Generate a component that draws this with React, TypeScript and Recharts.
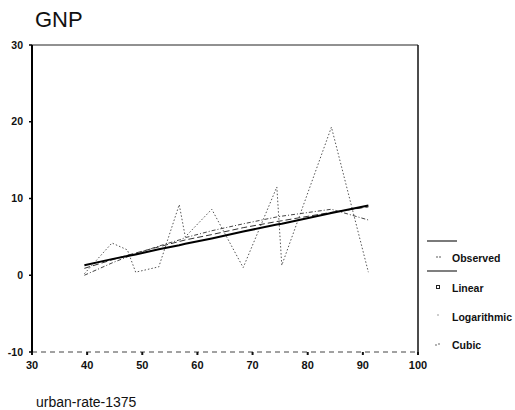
import React from 'react';
import { ComposedChart, Line, XAxis, YAxis, ReferenceLine } from 'recharts';

// urban-rate-1375 values (sorted) and GNP
const urbanRate = [39.5, 44.5, 47.3, 48.8, 53.0, 56.7, 57.8, 62.6, 68.3, 74.4, 75.3, 84.3, 91.0];
const observedGNP = [0.2, 4.2, 3.3, 0.4, 1.1, 9.2, 5.0, 8.6, 1.0, 11.5, 1.3, 19.3, 0.4];
const linearFit = [1.3, 2.1, 2.5, 2.7, 3.4, 3.9, 4.1, 4.8, 5.7, 6.6, 6.7, 8.1, 9.1];
const logFit = [0.9, 2.0, 2.6, 2.9, 3.7, 4.4, 4.6, 5.3, 6.2, 7.0, 7.1, 8.2, 8.9];
const cubicFit = [0.0, 1.6, 2.4, 2.8, 3.8, 4.6, 4.9, 5.8, 6.7, 7.6, 7.7, 8.6, 7.2];

const xTicks = [30, 40, 50, 60, 70, 80, 90, 100];
const yTicks = [-10, 0, 10, 20, 30];
const legendLabels = ['Observed', 'Linear', 'Logarithmic', 'Cubic'];

const data = urbanRate.map((x, i) => ({
  x,
  observed: observedGNP[i],
  linear: linearFit[i],
  logarithmic: logFit[i],
  cubic: cubicFit[i],
}));

const FONT = '"Liberation Sans", Arial, Helvetica, sans-serif';

export default function App() {
  return (
    <div style={{ position: 'absolute', left: 0, top: 0, width: 515, height: 410, background: '#fff', fontFamily: FONT }}>
      <ComposedChart
        width={515}
        height={410}
        data={data}
        margin={{ top: 45, right: 97, left: 0, bottom: 0 }}
      >
        <XAxis
          dataKey="x"
          type="number"
          domain={[30, 100]}
          ticks={xTicks}
          allowDataOverflow
          height={58}
          tickSize={3}
          tickMargin={6}
          axisLine={{ stroke: '#444', strokeDasharray: '5 4', strokeWidth: 1 }}
          tickLine={{ stroke: '#111', strokeWidth: 2 }}
          tick={{ fill: '#111', fontSize: 11, fontWeight: 'bold', fontFamily: FONT }}
        />
        <YAxis
          type="number"
          domain={[-10, 30]}
          ticks={yTicks}
          allowDataOverflow
          width={32}
          tickSize={3}
          tickMargin={6}
          axisLine={{ stroke: '#000', strokeWidth: 2 }}
          tickLine={{ stroke: '#000', strokeWidth: 1.5 }}
          tick={{ fill: '#111', fontSize: 10.5, fontWeight: 'bold', fontFamily: FONT }}
        />
        <ReferenceLine y={30} stroke="#222" strokeWidth={1} />
        <ReferenceLine x={100} stroke="#111" strokeWidth={1.5} />
        <Line
          type="linear"
          dataKey="observed"
          stroke="#555"
          strokeWidth={1}
          strokeDasharray="1.5 2"
          dot={false}
          isAnimationActive={false}
        />
        <Line
          type="linear"
          dataKey="logarithmic"
          stroke="#333"
          strokeWidth={1}
          strokeDasharray="6 3"
          dot={false}
          isAnimationActive={false}
        />
        <Line
          type="linear"
          dataKey="cubic"
          stroke="#444"
          strokeWidth={1}
          strokeDasharray="4 2 1 2"
          dot={false}
          isAnimationActive={false}
        />
        <Line
          type="linear"
          dataKey="linear"
          stroke="#000"
          strokeWidth={2}
          dot={false}
          isAnimationActive={false}
        />
      </ComposedChart>
      <svg
        width={515}
        height={410}
        style={{ position: 'absolute', left: 0, top: 0, pointerEvents: 'none' }}
      >
        <text x={35} y={27} fontSize={22} fontFamily={FONT} fill="#111">GNP</text>
        <text x={36} y={407} fontSize={14} fontFamily={FONT} fill="#111">urban-rate-1375</text>
        {/* legend */}
        <line x1={427} x2={457} y1={241} y2={241} stroke="#222" strokeWidth={1.2} />
        <line x1={427} x2={457} y1={271} y2={271} stroke="#555" strokeWidth={1.5} />
        <circle cx={437} cy={257} r={0.8} fill="#444" />
        <circle cx={440} cy={257} r={0.8} fill="#444" />
        <rect x={436.5} y={285.5} width={3} height={3} fill="none" stroke="#222" strokeWidth={1} />
        <circle cx={438} cy={315} r={0.7} fill="#777" />
        <circle cx={436} cy={345} r={0.8} fill="#555" />
        <circle cx={439} cy={344} r={0.8} fill="#555" />
        {legendLabels.map((label, i) => (
          <text
            key={label}
            x={452}
            y={[262, 292, 321, 349][i]}
            fontSize={10.5}
            fontWeight="bold"
            fontFamily={FONT}
            fill="#111"
          >
            {label}
          </text>
        ))}
      </svg>
    </div>
  );
}
